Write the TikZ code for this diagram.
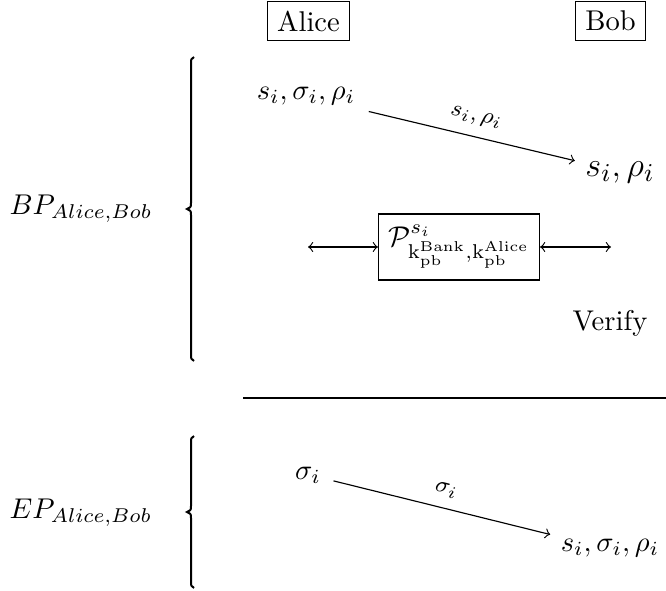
\documentclass[tikz,border=0pt]{standalone}
\begin{document}
\begin{tikzpicture}[x=0.35pt,y=-0.35pt,
  party/.style={draw,line width=0.4pt},
  msg/.style={inner sep=0pt},
  flow/.style={->,line width=0.4pt},
  lbl/.style={font=\footnotesize,above=0.5pt,sloped},
  curly/.style={line width=0.7pt}]
\useasboundingbox (0,0) rectangle (666,590);

% participants
\node[party] (alice) at (308.5,21) {Alice};
\node[party] (bob) at (610.5,21) {Bob};

% BP phase
\node (bp) at (81,209) {$BP_{Alice,Bob}$};
\draw[curly] (194,57) .. controls (191,59) .. (191,64) -- (191,203)
  .. controls (191,207) .. (187,209) .. controls (191,211) .. (191,215)
  -- (191,354) .. controls (191,359) .. (194,361);

\node[msg] (a1) at (306,96) {$s_i,\sigma_i,\rho_i$};
\node[msg,font=\fontsize{13}{15}\selectfont] (b1) at (620,172) {$s_i,\rho_i$};
\draw[flow] ([shift={(13,6)}]a1.south east) -- node[lbl]{$s_i,\rho_i$} ([shift={(-10,0)}]b1.north west);

\node[draw,line width=0.4pt,inner ysep=4pt] (proof) at (459,247)
  {$\mathcal{P}^{s_i}_{\mathrm{k}_{\mathrm{pb}}^{\mathrm{Bank}},\mathrm{k}_{\mathrm{pb}}^{\mathrm{Alice}}}$};
\coordinate (pl) at (308,247);
\coordinate (pr) at (611,247);
\draw[<->,line width=0.4pt] (pl) -- (proof.west);
\draw[<->,line width=0.4pt] (proof.east) -- (pr);

\node (verify) at (610,323) {Verify};

% separator
\coordinate (s1) at (243,398);
\coordinate (s2) at (666,398);
\draw[line width=0.5pt] (s1) -- (s2);

% EP phase
\node (ep) at (81,513) {$EP_{Alice,Bob}$};
\draw[curly] (194,436) .. controls (191,438) .. (191,443) -- (191,506)
  .. controls (191,510) .. (187,512) .. controls (191,514) .. (191,518)
  -- (191,581) .. controls (191,586) .. (194,588);

\node[msg] (a2) at (308,475) {$\sigma_i$};
\node[msg] (b2) at (610,548) {$s_i,\sigma_i,\rho_i$};
\draw[flow] ([shift={(12,-3)}]a2.south east) -- node[lbl]{$\sigma_i$} ([shift={(-10,-4)}]b2.north west);
\end{tikzpicture}
\end{document}
